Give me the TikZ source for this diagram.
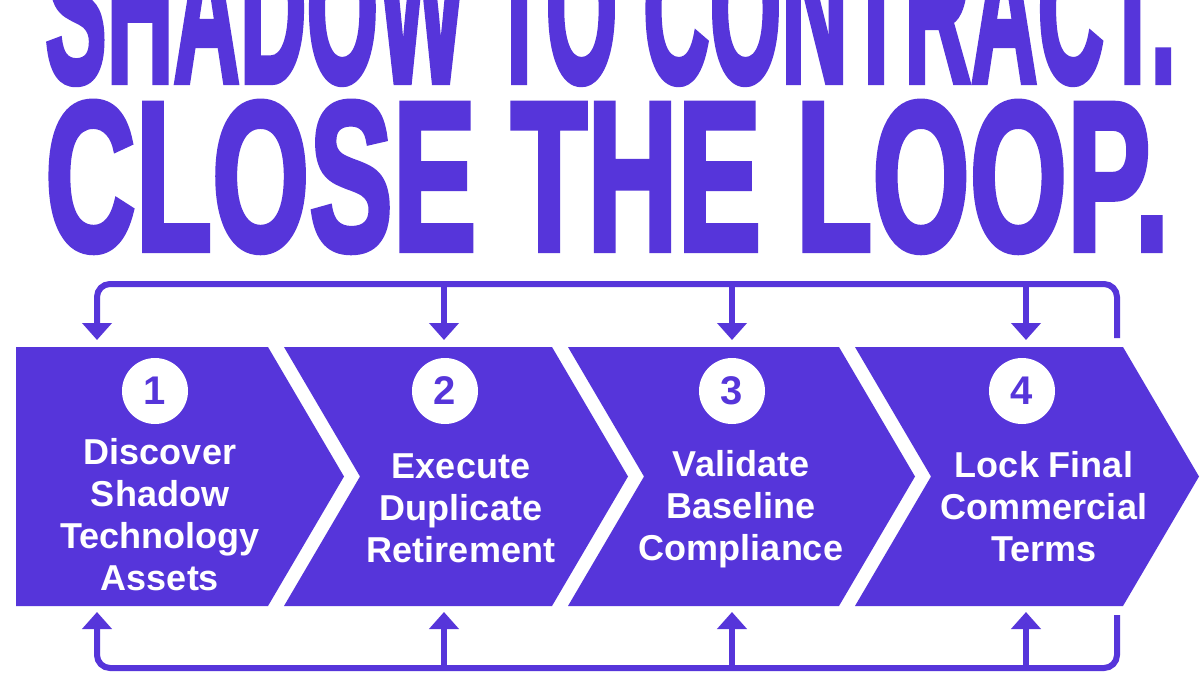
\documentclass[tikz,border=0pt]{standalone}
\usepackage{fontspec}
\setmainfont{Liberation Sans}
\newfontfamily\titlefont{Liberation Sans}[BoldFeatures={FakeBold=3}]
\usepackage{graphicx}
\usetikzlibrary{arrows.meta}
\definecolor{loopviolet}{HTML}{5635DA}

\begin{document}
\begin{tikzpicture}[x=1pt,y=-1pt,
  loopline/.style={draw=loopviolet, line width=6pt, rounded corners=13pt},
  tip/.style={-{Triangle[width=29pt,length=17pt]}},
  stepnum/.style={circle, fill=white, minimum size=66pt, inner sep=0pt, text=loopviolet, font=\bfseries\fontsize{40}{40}\selectfont},
  steptext/.style={align=center, text=white, font=\bfseries\fontsize{36}{42}\selectfont}]
\useasboundingbox (0,0) rectangle (1200,675);
\clip (0,0) rectangle (1200,675);
\fill[white] (0,0) rectangle (1200,675);

% title
\node[anchor=base west, inner sep=0pt, text=loopviolet] (title1) at (45,82) {\resizebox{1130pt}{147pt}{\titlefont\bfseries SHADOW TO CONTRACT.}};
\node[anchor=base west, inner sep=0pt, text=loopviolet] (title2) at (45,250) {\resizebox{1123pt}{148pt}{\titlefont\bfseries CLOSE THE LOOP.}};

% chevrons
\fill[loopviolet] (16,347) -- (268,347) -- (344,476.5) -- (268,606) -- (16,606) -- cycle;
\foreach \l/\r in {284/552, 568/839, 855/1123}
  \fill[loopviolet] (\l,347) -- (\r,347) -- ++(76,129.5) -- (\r,606) -- (\l,606) -- ++(76,-129.5) -- cycle;

% loop rails
\coordinate (railT) at (0,284);
\coordinate (railB) at (0,668);
\coordinate (endT) at (1117,338);
\coordinate (endB) at (1117,615);
\foreach \x [count=\n] in {97,444,732,1026} {
  \coordinate (top\n) at (\x,340);
  \coordinate (bot\n) at (\x,612);
}
\draw[loopline, tip] (endT) -- (endT |- railT) -- (top1 |- railT) -- (top1);
\draw[loopline, tip] (endB) -- (endB |- railB) -- (bot1 |- railB) -- (bot1);
\foreach \n in {2,3,4} {
  \draw[loopline, tip] (top\n |- railT) -- (top\n);
  \draw[loopline, tip] (bot\n |- railB) -- (bot\n);
}

% steps
\foreach \x/\n in {155/1, 445/2, 732/3, 1022/4}
  \node[stepnum] (num\n) at (\x,391) {\n};
\node[steptext] (text1) at (160,515) {Discover\\Shadow\\Technology\\Assets};
\node[steptext] (text2) at (461,508) {Execute\\Duplicate\\Retirement};
\node[steptext] (text3) at (741,509) {Validate\\Baseline\\Compliance};
\node[steptext] (text4) at (1044,507) {Lock Final\\Commercial\\Terms};
\end{tikzpicture}
\end{document}
